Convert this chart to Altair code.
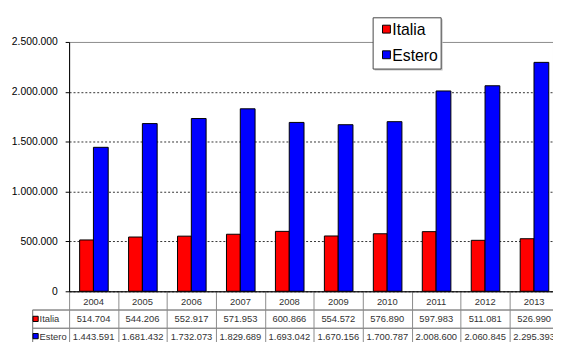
import altair as alt
import pandas as pd

years = ["2004", "2005", "2006", "2007", "2008", "2009", "2010", "2011", "2012", "2013"]
italia = [514704, 544206, 552917, 571953, 600866, 554572, 576890, 597983, 511081, 526990]
estero = [1443591, 1681432, 1732073, 1829689, 1693042, 1670156, 1700787, 2008600, 2060845, 2295393]
series = ["Italia", "Estero"]
colors = ["#FF0000", "#0000FF"]
y_ticks = [0, 500000, 1000000, 1500000, 2000000, 2500000]


def fmt(v):
    return f"{v:,}".replace(",", ".")


bars_df = pd.DataFrame(
    [{"idx": i, "year": y, "series": "Italia", "value": v, "o0": 0.215, "o1": 0.497}
     for i, (y, v) in enumerate(zip(years, italia))]
    + [{"idx": i, "year": y, "series": "Estero", "value": v, "o0": 0.497, "o1": 0.799}
       for i, (y, v) in enumerate(zip(years, estero))]
)
table_df = pd.DataFrame({
    "idx": list(range(len(years))),
    "year": years,
    "it": [fmt(v) for v in italia],
    "es": [fmt(v) for v in estero],
})
hdr_df = pd.DataFrame({"series": series, "color": colors})

FONT = "Liberation Sans"
W = 491
H = 253
STEP = 49.67

xscale = alt.Scale(domain=[0, W / STEP], nice=False, zero=False)
yscale = alt.Scale(domain=[0, 2500000], nice=False, zero=True)

x_axis = alt.Axis(
    title=None, labels=False, values=list(range(len(years) + 1)), tickSize=60,
    tickColor="#8a8a8a", domainColor="#000000", grid=False,
)
y_axis = alt.Axis(
    title=None, values=y_ticks, tickSize=4, tickColor="#000000", domainColor="#000000",
    labelFont=FONT, labelFontSize=10.5, labelColor="#000000", labelPadding=8,
    grid=True, gridColor="#333333", gridDash=[2, 2], gridWidth=1,
    gridOpacity={"condition": {"test": "datum.value >= 2500000", "value": 0}, "value": 1},
    labelExpr="replace(replace(format(datum.value, ',d'), ',', '.'), ',', '.')",
)

bars = alt.Chart(bars_df).transform_calculate(
    xa="datum.idx + datum.o0", xb="datum.idx + datum.o1", base="0"
).mark_rect(stroke="#000000", strokeWidth=1).encode(
    x=alt.X("xa:Q", scale=xscale, axis=x_axis),
    x2="xb:Q",
    y=alt.Y("value:Q", scale=yscale, axis=y_axis),
    y2="base:Q",
    color=alt.Color("series:N", scale=alt.Scale(domain=series, range=colors),
                    sort=series, legend=None),
)

TXT = dict(font=FONT, fontSize=9.5, color="#333333")
tbl = alt.Chart(table_df).transform_calculate(xc="datum.idx + 0.5")
year_text = tbl.mark_text(**TXT).encode(
    x=alt.X("xc:Q", scale=xscale), y=alt.value(263.5), text="year:N"
)
it_text = tbl.mark_text(**TXT).encode(
    x=alt.X("xc:Q", scale=xscale), y=alt.value(281.5), text="it:N"
)
es_text = tbl.mark_text(**TXT).encode(
    x=alt.X("xc:Q", scale=xscale), y=alt.value(299.5), text="es:N"
)

line_color = "#8a8a8a"
h1 = alt.Chart(hdr_df).mark_rule(color=line_color).encode(
    x=alt.value(-37), x2=alt.value(W), y=alt.value(272))
h2 = alt.Chart(hdr_df).mark_rule(color=line_color).encode(
    x=alt.value(-37), x2=alt.value(W), y=alt.value(290.5))
v1 = alt.Chart(hdr_df).mark_rule(color=line_color).encode(
    x=alt.value(-37), y=alt.value(272), y2=alt.value(310))

hdr_it = alt.Chart(hdr_df).transform_filter("datum.series == 'Italia'")
hdr_es = alt.Chart(hdr_df).transform_filter("datum.series == 'Estero'")
key_it = hdr_it.mark_square(size=28, fill="#FF0000", stroke="#000000", strokeWidth=1, opacity=1).encode(
    x=alt.value(-34), y=alt.value(281))
key_es = hdr_es.mark_square(size=28, fill="#0000FF", stroke="#000000", strokeWidth=1, opacity=1).encode(
    x=alt.value(-34), y=alt.value(298.5))
lab_it = hdr_it.mark_text(align="left", **TXT).encode(
    x=alt.value(-30), y=alt.value(281.5), text="series:N")
lab_es = hdr_es.mark_text(align="left", **TXT).encode(
    x=alt.value(-30), y=alt.value(299.5), text="series:N")

# legend box (drawn manually)
leg_shadow = hdr_it.mark_rect(fill="#c4c4c4").encode(
    x=alt.value(310), x2=alt.value(379), y=alt.value(-23), y2=alt.value(29))
leg_box = hdr_it.mark_rect(fill="#ffffff", stroke="#444444", strokeWidth=1).encode(
    x=alt.value(308.5), x2=alt.value(377.5), y=alt.value(-24.5), y2=alt.value(27.5))
leg_key_it = hdr_it.mark_square(size=64, fill="#FF0000", stroke="#000000", strokeWidth=1, opacity=1).encode(
    x=alt.value(322), y=alt.value(-13))
leg_key_es = hdr_es.mark_square(size=64, fill="#0000FF", stroke="#000000", strokeWidth=1, opacity=1).encode(
    x=alt.value(322), y=alt.value(13))
LEG = dict(font=FONT, fontSize=16, color="#000000", align="left", baseline="middle")
leg_lab_it = hdr_it.mark_text(**LEG).encode(x=alt.value(328), y=alt.value(-12), text="series:N")
leg_lab_es = hdr_es.mark_text(**LEG).encode(x=alt.value(328), y=alt.value(14), text="series:N")

chart = alt.layer(
    bars, year_text, it_text, es_text, h1, h2, v1, key_it, key_es, lab_it, lab_es,
    leg_shadow, leg_box, leg_key_it, leg_key_es, leg_lab_it, leg_lab_es,
).properties(
    width=W, height=H,
    autosize=alt.AutoSizeParams(type="none"),
    padding={"left": 62, "top": 32, "right": 0, "bottom": 49},
    background="#ffffff",
).configure_view(stroke="#8a8a8a")

chart.save("out.html", embed_options={"renderer": "svg", "actions": False})
